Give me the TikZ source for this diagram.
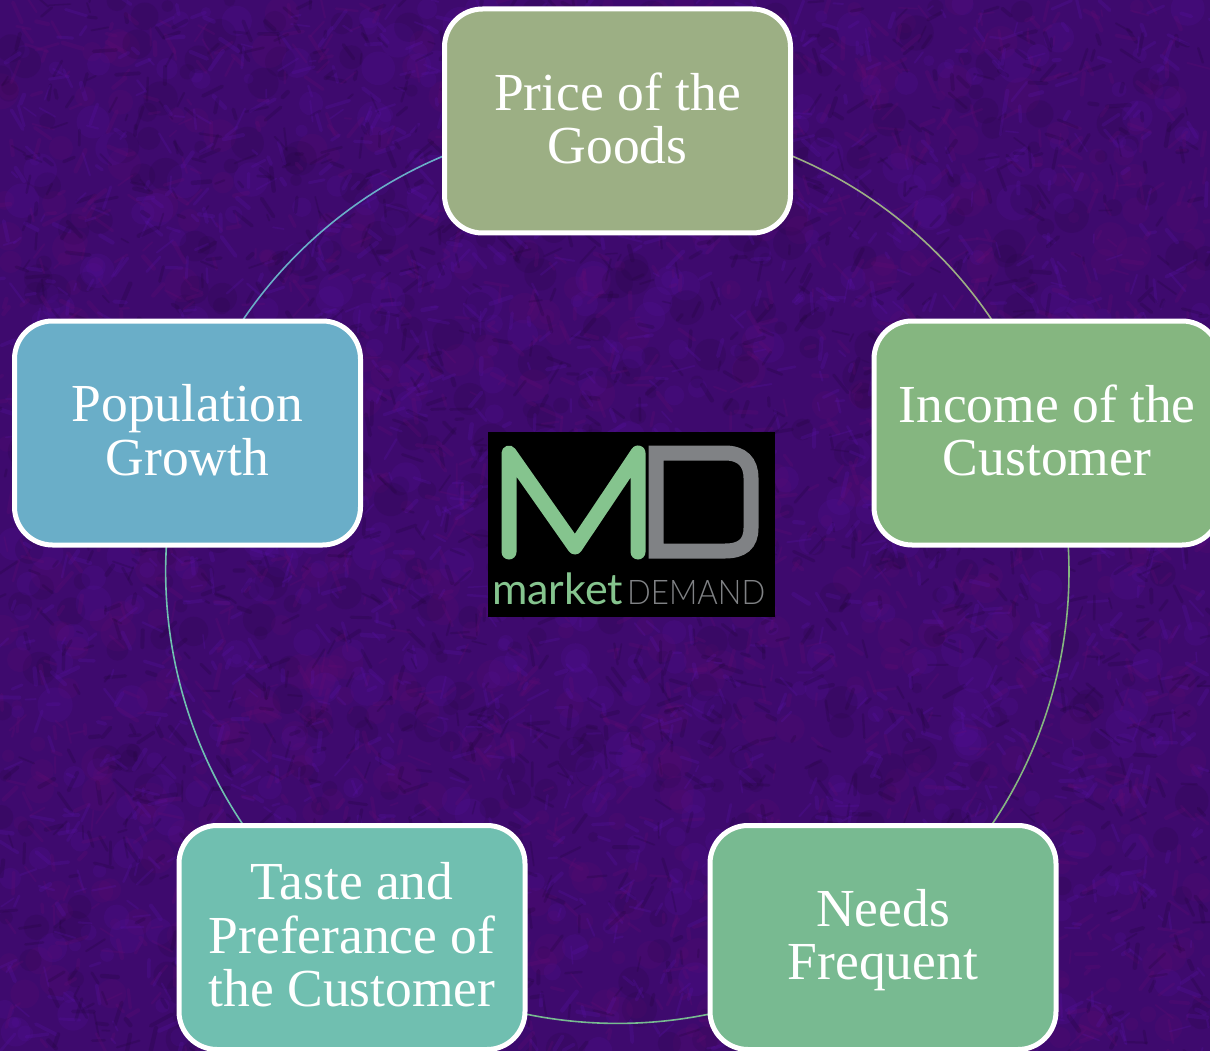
\documentclass[tikz,border=0pt]{standalone}
\usepackage{fontspec}
\usepackage{graphicx}
\setmainfont{Liberation Serif}
\newfontfamily\logofont{Lato}
\newfontfamily\logolight{Lato}[UprightFont=* Light]
\newcommand{\liftup}{\rule[-6pt]{0pt}{0pt}}
\newcommand{\pushdown}{\rule{0pt}{42.5pt}}
\pgfdeclarelayer{texture}
\pgfdeclarelayer{rim}
\pgfsetlayers{texture,rim,main}
\definecolor{bgbase}{HTML}{3E0A6E}
\definecolor{bgdark}{HTML}{22053C}
\definecolor{bglight}{HTML}{5812A6}
\definecolor{bgred}{HTML}{640C74}
\definecolor{cprice}{HTML}{9CAF84}
\definecolor{cincome}{HTML}{85B680}
\definecolor{cneeds}{HTML}{78BA91}
\definecolor{ctaste}{HTML}{70BFB0}
\definecolor{cpop}{HTML}{6AAEC8}
\definecolor{logogreen}{HTML}{85C48E}
\definecolor{logogray}{HTML}{808285}
\tikzset{
  x=1pt,y=-1pt,
  factor/.style={draw=white,line width=5pt,rounded corners=38pt,minimum width=346pt,minimum height=224pt,
    align=flush center,text=white,font=\fontsize{53.5}{53.5}\selectfont,inner sep=0pt,text width=340pt},
  rimline/.style={line width=1.6pt,bend left=36,looseness=.941},
  logostroke/.style={line width=15pt,line cap=round,line join=round},
}
\begin{document}
\begin{tikzpicture}
\useasboundingbox (0,0) rectangle (1210,1051);
\clip (0,0) rectangle (1210,1051);
\begin{pgfonlayer}{texture}
\fill[bgbase] (0,0) rectangle (1210,1051);
\pgfmathsetseed{7}
\foreach \i in {1,...,1500}{
  \pgfmathsetmacro{\px}{rnd*1210}
  \pgfmathsetmacro{\py}{rnd*1051}
  \pgfmathsetmacro{\rad}{5+rnd*13}
  \pgfmathtruncatemacro{\pick}{int(rnd*3)}
  \ifcase\pick\def\tone{bgdark}\or\def\tone{bglight}\else\def\tone{bgred}\fi
  \fill[color=\tone,opacity=.16] (\px,\py) circle[radius=\rad];
}
\foreach \i in {1,...,4500}{
  \pgfmathsetmacro{\px}{rnd*1210}
  \pgfmathsetmacro{\py}{rnd*1051}
  \pgfmathsetmacro{\ang}{rnd*360}
  \pgfmathsetmacro{\len}{6+rnd*18}
  \pgfmathsetmacro{\wid}{1.5+rnd*3}
  \pgfmathtruncatemacro{\pick}{int(rnd*3)}
  \ifcase\pick\def\tone{bgdark}\or\def\tone{bglight}\else\def\tone{bgred}\fi
  \draw[color=\tone,opacity=.25,line width=\wid pt,line cap=round]
    (\px,\py) -- ++(\ang:\len);
}
\end{pgfonlayer}

\node[factor,fill=cprice] (price) at (617.5,121) {Price of the\\Goods\liftup};
\node[factor,fill=cincome] (income) at (1047,433) {Income of the\\Customer\liftup};
\node[factor,fill=cneeds] (needs) at (883,937.5) {\pushdown Needs\\Frequent};
\node[factor,fill=ctaste] (taste) at (352,937.5) {Taste and\\Preferance of\\the Customer\liftup};
\node[factor,fill=cpop] (pop) at (187.5,433) {Population\\Growth\liftup};

\begin{pgfonlayer}{rim}
\draw[rimline,draw=cprice] (price.center) to (income.center);
\draw[rimline,draw=cincome] (income.center) to (needs.center);
\draw[rimline,draw=cneeds] (needs.center) to (taste.center);
\draw[rimline,draw=ctaste] (taste.center) to (pop.center);
\draw[rimline,draw=cpop] (pop.center) to (price.center);
\end{pgfonlayer}

\fill[black] (488,432) rectangle (775,617);
\draw[logostroke,logogreen] (509,552) -- (509,453) -- (575,547) -- (638,453) -- (638,552);
\draw[logostroke,logogray,line cap=butt,line join=miter]
  (656,453) -- (725,453) .. controls (742,453) and (751,462) .. (751,478)
  -- (751,528) .. controls (751,544) and (742,551) .. (725,551) -- (656,551) -- cycle;
\node[inner sep=0pt,anchor=base west,text=logogreen] (mkt) at (492,604)
  {\resizebox{131pt}{!}{\logofont market}};
\node[inner sep=0pt,anchor=base west,text=logogray] (dem) at (627,604)
  {\resizebox{138pt}{24pt}{\logolight DEMAND}};
\end{tikzpicture}
\end{document}
